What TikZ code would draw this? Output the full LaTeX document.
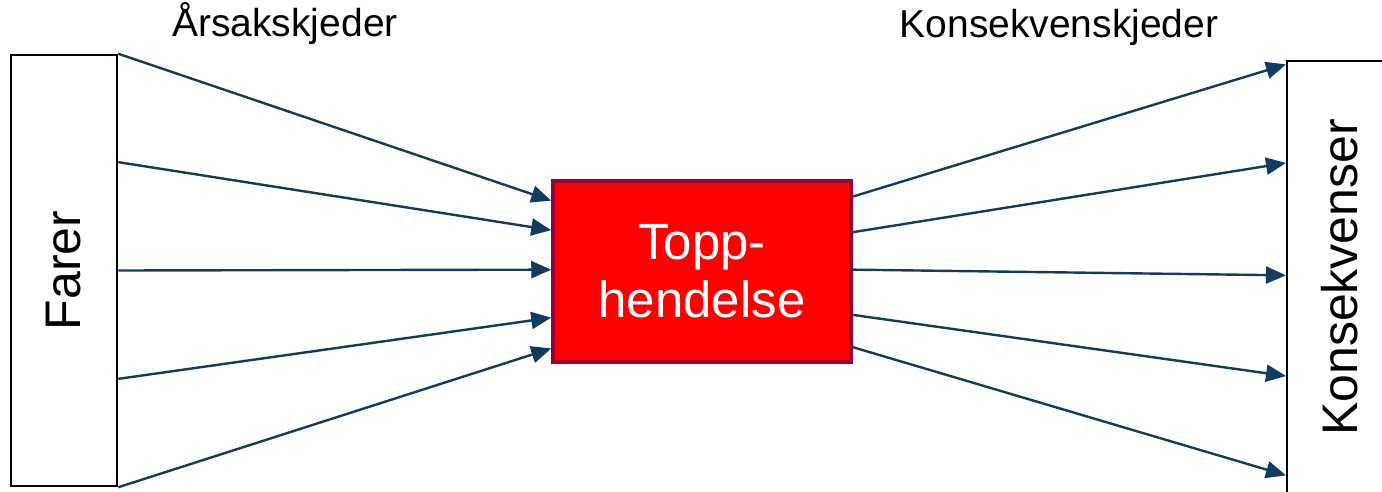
\documentclass[tikz,border=0pt]{standalone}
\usepackage{fontspec}
\setmainfont{Liberation Sans}
\usepackage{tikz}
\usetikzlibrary{calc,arrows.meta,positioning}
\definecolor{chainblue}{HTML}{123B5E}
\definecolor{topred}{HTML}{FF0000}
\definecolor{topborder}{HTML}{990033}

\begin{document}
\begin{tikzpicture}[x=1pt,y=-1pt]

\tikzset{
  sidebox/.style={draw=black, line width=2.5pt, fill=white, inner sep=0pt,
                  font=\fontsize{50}{58}\selectfont},
  topevent/.style={draw=topborder, fill=topred, line width=3.5pt, text=white,
                  align=center, font=\fontsize{51}{58}\selectfont,
                  minimum width=298pt, minimum height=181pt, inner sep=0pt},
  chainlabel/.style={font=\fontsize{39}{44}\selectfont, anchor=base},
  chain/.style={chainblue, line width=2.4pt,
                  -{Triangle[length=20pt, width=17pt]}}
}

\useasboundingbox (0,0) rectangle (1382,492);

% Boxes
\node[sidebox, minimum width=106pt, minimum height=431pt] (farer) at (64, 270.5) {\rotatebox{90}{Farer}};
\node[topevent] (top) at (702, 271.5) {Topp-\\hendelse};
\node[sidebox, line width=2pt, minimum width=106pt, minimum height=432pt] (kons) at (1340, 277.5) {\rotatebox{90}{Konsekvenser}};

% Titles
\node[chainlabel] (aars) at (285, 37) {Årsakskjeder};
\node[chainlabel] (konskj) at (1059, 38) {Konsekvenskjeder};

% Causes
\foreach \a/\b in {0/0.116, 0.25/0.276, 0.5/0.49, 0.75/0.75, 1/0.917}
  \draw[chain] ($(farer.north east)!\a!(farer.south east)$) -- ($(top.north west)!\b!(top.south west)$);

% Consequences
\foreach \a/\b in {0.094/0.009, 0.287/0.236, 0.49/0.495, 0.735/0.727, 0.91/0.956}
  \draw[chain] ($(top.north east)!\a!(top.south east)$) -- ($(kons.north west)!\b!(kons.south west)$);

\end{tikzpicture}
\end{document}
